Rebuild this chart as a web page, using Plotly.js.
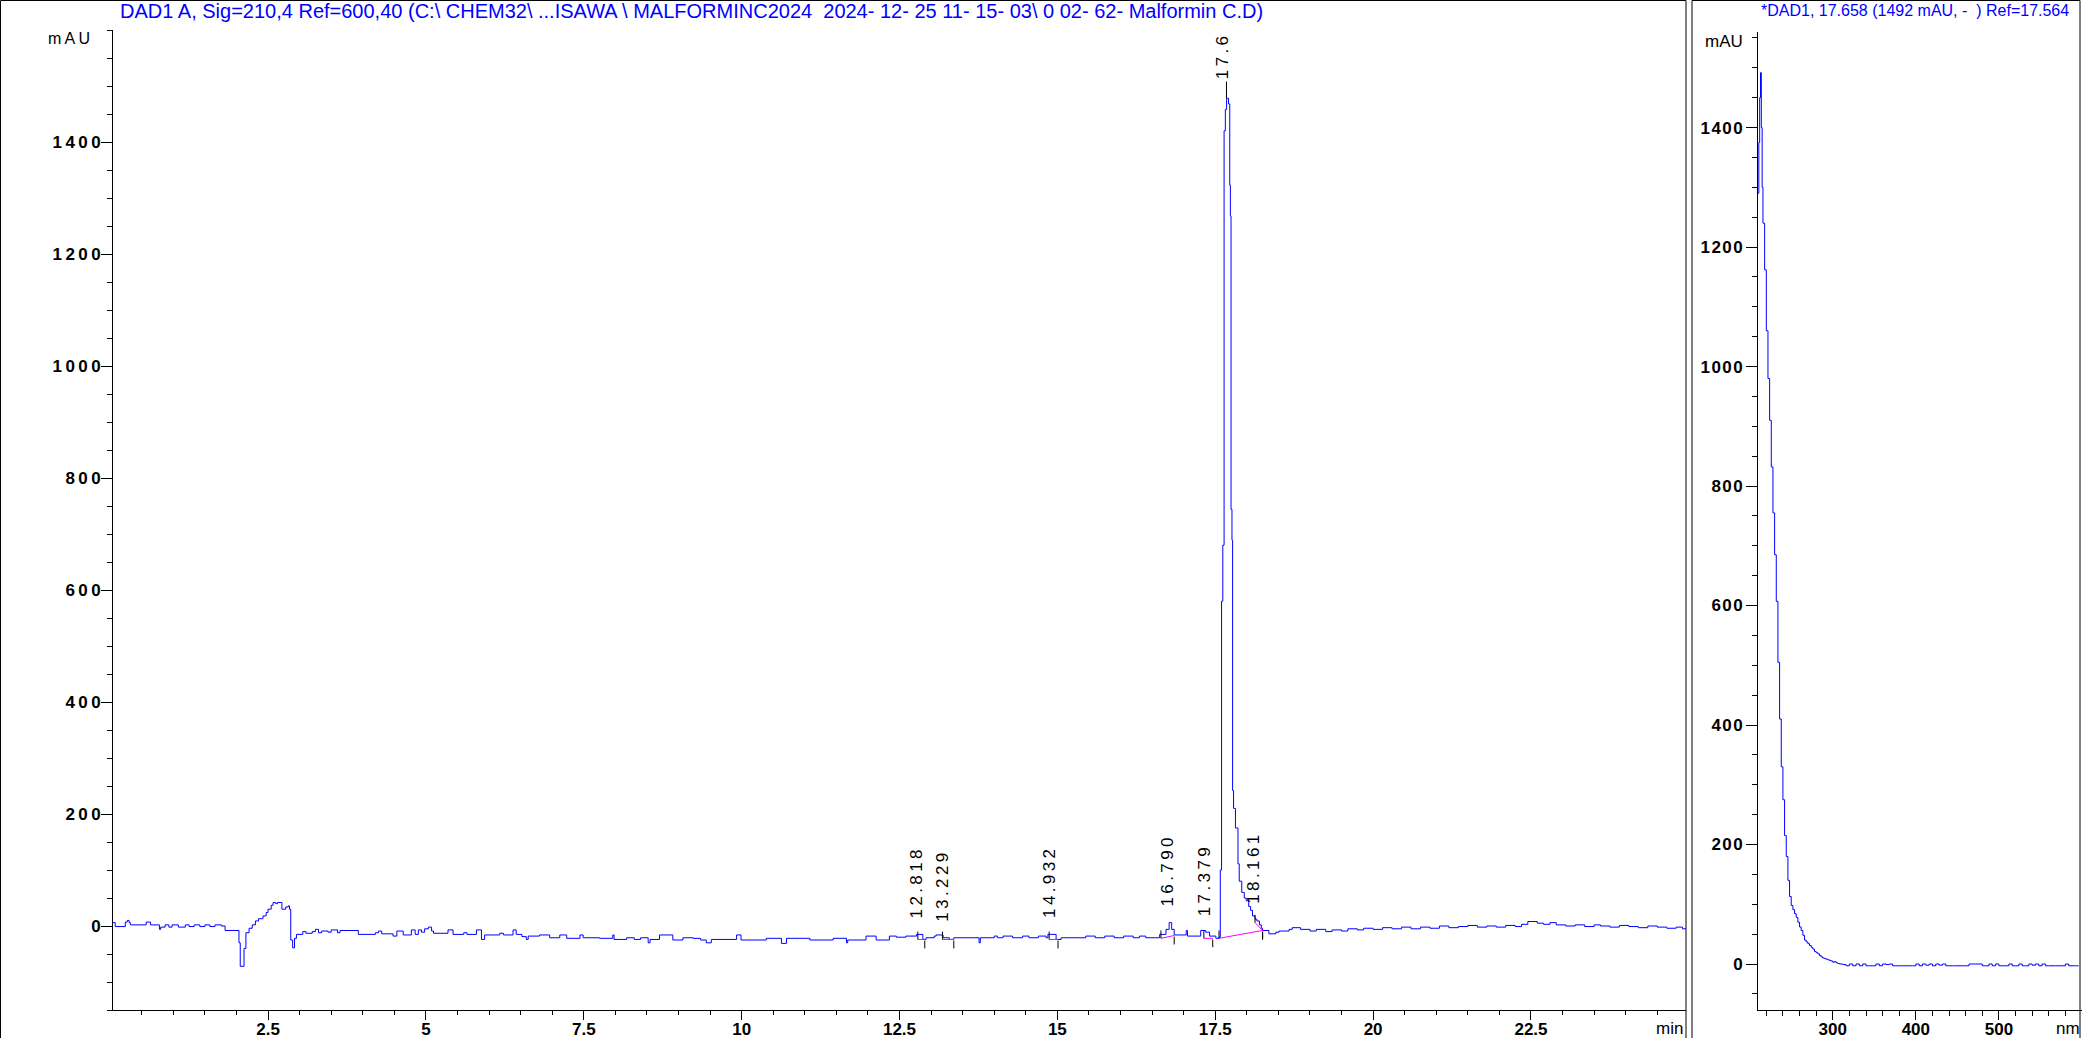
<!DOCTYPE html>
<html><head><meta charset="utf-8">
<script src="https://cdn.plot.ly/plotly-3.0.1.min.js"></script>
<style>html,body{margin:0;padding:0;background:#fff;overflow:hidden}</style>
</head><body><div id="chart" style="width:2082px;height:1038px"></div>
<script>
// ---- Chromatogram (DAD1 A, 210 nm) ----
const timeMin = [0,0.08,0.24,0.27,0.3,0.32,0.57,0.64,0.78,0.8,0.87,0.93,0.98,1.08,1.19,1.25,1.33,1.42,1.5,1.58,1.66,1.76,1.82,2.04,
2.06,2.12,2.15,2.2,2.25,2.3,2.35,2.42,2.47,2.5,2.55,2.58,2.62,2.65,2.72,2.78,2.82,2.84,2.86,2.89,2.92,2.95,3.05,3.1,3.2,3.25,3.3,3.35,3.45,3.5,3.6,3.64,3.93,
4.2,4.25,4.3,4.48,4.54,4.59,4.64,4.77,4.83,4.88,4.93,4.98,5.04,5.09,5.12,5.35,5.43,5.6,5.65,5.8,5.88,5.93,6.17,6.23,6.38,6.43,6.52,6.59,6.62,6.8,6.96,
7.12,7.23,7.44,7.49,7.75,7.96,7.98,8.18,8.3,8.4,8.52,8.55,8.7,8.91,9.07,9.23,9.35,9.44,9.52,9.92,9.99,10.39,10.63,10.71,11.08,11.45,11.66,11.68,11.97,
12.13,12.34,12.45,12.6,12.77,12.87,12.92,13.05,13.08,13.19,13.29,13.36,13.76,13.78,14.0,14.05,14.14,14.29,14.45,14.55,14.7,14.82,14.85,14.98,15.06,
15.45,15.6,15.75,15.9,16.05,16.2,16.3,16.4,16.62,16.72,16.77,16.81,16.85,17.04,17.06,17.27,17.35,17.41,17.51,17.56,
17.58,17.6,17.62,17.64,17.66,17.68,17.71,17.73,17.74,17.75,17.765,17.775,17.79,17.82,17.86,17.88,17.92,17.96,17.99,18.03,18.06,18.09,18.13,18.16,18.2,18.23,18.25,
18.35,18.46,18.51,18.67,18.72,18.85,19.0,19.1,19.25,19.35,19.5,19.6,19.75,19.85,20.0,20.15,20.3,20.45,20.6,20.75,20.9,21.05,21.2,21.35,21.5,21.65,21.8,21.95,
22.1,22.25,22.35,22.45,22.6,22.7,22.8,22.9,23.05,23.2,23.35,23.5,23.6,23.75,23.9,24.05,24.2,24.35,24.5,24.65,24.8,24.9,24.95];
const signalMAU = [6,-1,7,10,6,2,7,2,-6,-2,2,-2,2,-2,2,-1,2,-1,2,-1,2,0,-8,-30,
-72,-40,-12,-4,2,9,13,18,24,30,37,42,40,42,30,34,36,30,-25,-39,-22,-15,-10,-13,-10,-6,-12,-9,-11,-7,-12,-8,-15,
-12,-9,-14,-18,-9,-9,-16,-7,-15,-7,-11,-5,-2,-9,-13,-7,-15,-12,-15,-7,-24,-16,-13,-16,-7,-15,-19,-24,-18,-16,-21,
-16,-22,-16,-21,-22,-16,-24,-21,-24,-21,-30,-24,-16,-25,-21,-22,-25,-30,-24,-16,-25,-22,-31,-22,-25,-22,-30,-25,-18,
-25,-18,-20,-18,-15,-24,-21,-18,-16,-21,-24,-21,-30,-21,-18,-21,-18,-21,-18,-21,-18,-21,-15,-24,-21,
-18,-21,-18,-21,-18,-21,-18,-21,-15,-6,6,-6,-16,-8,-18,-8,-11,-18,-22,-20,
100,580,680,1420,1458,1478,1468,1323,1268,744,689,242,210,175,111,80,60,50,45,35,28,18,12,9,2,-4,-8,
-14,-11,-9,-6,-3,-6,-9,-6,-10,-7,-9,-5,-7,-4,-6,-3,-5,-2,-5,-2,-4,0,-3,-1,1,-2,0,-2,
1,-1,3,8,5,3,6,2,0,2,-1,2,0,-2,1,-1,-3,0,-2,-4,-2,-5,-4];

// ---- Integrated peaks ----
const peakRT    = [12.818, 13.229, 14.932, 16.790, 17.379, 17.658, 18.161];
const peakLabel = ["12.818","13.229","14.932","16.790","17.379","17.6","18.161"];
const intStart    = [12.79, 13.18, 14.87, 16.64, 17.32, 17.56, 18.13];
const intStartVal = [-24, -24, -24, -22, -22, -22, 6];
const intEnd      = [12.90, 13.36, 15.01, 16.85, 17.46, 18.25, 18.25];
const intEndVal   = [-24, -24, -24, -17, -22, -8, -8];

// ---- UV spectrum at 17.658 min ----
const specNm = [210,211,212,213,214,215,216,218,220,222,224,226,228,230,232,234,236,238,240,242,244,246,248,250,252,254,256,258,260,262,264,266,268,270,272,274,276,278,280,282,284,286,288,290,292,294,296,298,300,302,304,306,308,310,312,
316,320,324,328,332,336,340,344,348,352,356,360,364,368,372,376,380,384,388,392,396,400,404,408,412,416,420,424,428,432,436,440,444,448,452,456,460,464,468,472,476,480,484,488,492,496,500,504,508,512,516,520,524,528,532,536,540,544,548,552,556,560,564,568,572,576,580,584,588,592,596,600];
const specMAU = [1290,1375,1450,1492,1400,1300,1240,1162,1060,980,910,832,755,685,607,505,410,330,275,215,180,140,113,98,91,84,78,70,62,56,48,40,37,34,31,28,25,21,19,17,14,12,10,9,8,7,6,5,3,4,2,1,0,0,-1,
-3,0,-3,0,-3,0,-3,-3,-3,0,-3,0,-1,0,-3,-3,-3,-3,-3,-3,-3,0,-3,0,-2,0,-3,0,-2,0,-3,-3,-3,-3,-3,-3,-3,0,0,0,0,-3,-3,0,-3,0,-3,-3,-3,0,-3,-3,0,-3,-3,0,-2,0,-3,0,-3,-3,-3,-3,-3,-3,0,-3,-3,-3,-3];

const mainYTicks = [0,200,400,600,800,1000,1200,1400];
const specYTicks = [0,200,400,600,800,1000,1200,1400];

const mainTitle = "DAD1 A, Sig=210,4 Ref=600,40 (C:\\ CHEM32\\ ...ISAWA \\ MALFORMINC2024  2024- 12- 25 11- 15- 03\\ 0 02- 62- Malformin C.D)";
const specTitle = "*DAD1, 17.658 (1492 mAU, -  ) Ref=17.564";

// ---- build ----
const FONT = "Liberation Sans, Arial, sans-serif";
const BLUE = "#0000ff";
const W = 2082, H = 1038;
const spaced = s => s.split("").join("\u2009");

const traces = [];
traces.push({x: timeMin, y: signalMAU, type: "scatter", mode: "lines",
  line: {color: BLUE, width: 1, shape: "hv"}, xaxis: "x", yaxis: "y", hoverinfo: "skip"});

// magenta integration baselines
const bx = [], by = [];
intStart.forEach((s, i) => { bx.push(s, intEnd[i], null); by.push(intStartVal[i], intEndVal[i], null); });
traces.push({x: bx, y: by, type: "scatter", mode: "lines",
  line: {color: "#ff00ff", width: 1}, xaxis: "x", yaxis: "y", hoverinfo: "skip"});

// black start / end ticks
const tx = [], ty = [];
intStart.forEach((s, i) => {
  tx.push(s, s, null); ty.push(intStartVal[i], intStartVal[i] + 14, null);
  tx.push(intEnd[i], intEnd[i], null); ty.push(intEndVal[i] - 2, intEndVal[i] - 16, null);
});

// local maximum of the (step) signal around each peak
const localMax = rt => {
  let m = -1e9, last = signalMAU[0];
  timeMin.forEach((t, i) => {
    if (t <= rt) last = signalMAU[i];
    if (Math.abs(t - rt) <= 0.05) m = Math.max(m, signalMAU[i]);
  });
  return Math.max(m, last);
};
const mainIdx = 5;
const apex = localMax(peakRT[mainIdx]);
tx.push(peakRT[mainIdx] + 0.02, peakRT[mainIdx] + 0.02, null); ty.push(apex, apex + 30, null);
traces.push({x: tx, y: ty, type: "scatter", mode: "lines",
  line: {color: "black", width: 1}, xaxis: "x", yaxis: "y", hoverinfo: "skip"});

traces.push({x: specNm, y: specMAU, type: "scatter", mode: "lines",
  line: {color: BLUE, width: 1, shape: "hv"}, xaxis: "x2", yaxis: "y2", hoverinfo: "skip"});

const annotations = [];
peakRT.forEach((rt, i) => {
  const base = localMax(rt) + (i === mainIdx ? 30 : 25);
  annotations.push({x: rt, y: base, xref: "x", yref: "y", text: spaced(peakLabel[i]),
    textangle: -90, showarrow: false, xanchor: "center", yanchor: "bottom", xshift: -3,
    font: {family: FONT, size: 17, color: "black"}});
});
annotations.push({x: 69 / W, y: 1 - 38 / H, xref: "paper", yref: "paper", text: spaced("mAU"),
  showarrow: false, xanchor: "center", yanchor: "middle", font: {family: FONT, size: 16, color: "black"}});
annotations.push({x: 1724 / W, y: 1 - 41 / H, xref: "paper", yref: "paper", text: "mAU",
  showarrow: false, xanchor: "center", yanchor: "middle", font: {family: FONT, size: 17, color: "black"}});
annotations.push({x: 1685 / W, y: 1 - 1028 / H, xref: "paper", yref: "paper", text: "min",
  showarrow: false, xanchor: "right", yanchor: "middle", font: {family: FONT, size: 17, color: "black"}});
annotations.push({x: 1, y: 1 - 1028 / H, xref: "paper", yref: "paper", text: "nm",
  showarrow: false, xanchor: "right", yanchor: "middle", font: {family: FONT, size: 17, color: "black"}});
annotations.push({x: 1759 / W, y: 1 - 11 / H, xref: "paper", yref: "paper", text: specTitle,
  showarrow: false, xanchor: "left", yanchor: "middle", font: {family: FONT, size: 16, color: BLUE}});

const tickFont = {family: FONT, size: 17, color: "black", weight: "bold"};
const axisBase = {showline: true, linecolor: "black", linewidth: 1, ticks: "outside", tickcolor: "black",
  showgrid: false, zeroline: false, fixedrange: true, tickfont: tickFont};

const layout = {
  width: W, height: H,
  margin: {l: 0, r: 0, t: 0, b: 0, pad: 0},
  paper_bgcolor: "white", plot_bgcolor: "white", showlegend: false,
  title: {text: mainTitle, x: 120 / W, xanchor: "left", xref: "paper", y: 1 - 11 / H, yanchor: "middle",
    yref: "container", font: {family: FONT, size: 20, color: BLUE}},
  xaxis: Object.assign({}, axisBase, {domain: [113 / W, 1686 / W], range: [0.045, 24.955], anchor: "y",
    tick0: 0, dtick: 2.5, ticklen: 9, ticklabelstandoff: -5,
    minor: {tick0: 0, dtick: 0.5, ticklen: 4, tickcolor: "black", ticks: "outside"}}),
  yaxis: Object.assign({}, axisBase, {domain: [1 - 1010 / H, 1 - 30 / H], range: [-150, 1600], anchor: "x",
    tickmode: "array", tickvals: mainYTicks, ticktext: mainYTicks.map(v => spaced(String(v))), ticklen: 11,
    ticklabelstandoff: -3,
    minor: {tick0: 0, dtick: 50, ticklen: 5, tickcolor: "black", ticks: "outside"}}),
  xaxis2: Object.assign({}, axisBase, {domain: [1758 / W, 1], range: [210, 600], anchor: "y2",
    tick0: 0, dtick: 100, ticklen: 9, ticklabelstandoff: -5,
    minor: {tick0: 0, dtick: 20, ticklen: 5, tickcolor: "black", ticks: "outside"}}),
  yaxis2: Object.assign({}, axisBase, {domain: [1 - 1010 / H, 1 - 32 / H], range: [-77, 1560], anchor: "x2",
    tickmode: "array", tickvals: specYTicks, ticktext: specYTicks.map(v => String(v).split("").join("\u200A")), ticklen: 11,
    minor: {tick0: 0, dtick: 50, ticklen: 5, tickcolor: "black", ticks: "outside"}}),
  annotations: annotations,
  shapes: [
    {type: "rect", xref: "paper", yref: "paper", x0: 0.5 / W, x1: 1686 / W, y0: -0.02, y1: 1 - 0.5 / H,
      line: {color: "black", width: 1}, fillcolor: "rgba(0,0,0,0)", layer: "below"},
    {type: "rect", xref: "paper", yref: "paper", x0: 1692 / W, x1: 2080 / W, y0: -0.02, y1: 1 - 0.5 / H,
      line: {color: "black", width: 1}, fillcolor: "rgba(0,0,0,0)", layer: "below"}
  ]
};

Plotly.newPlot("chart", traces, layout, {staticPlot: true, displayModeBar: false});
</script></body></html>
